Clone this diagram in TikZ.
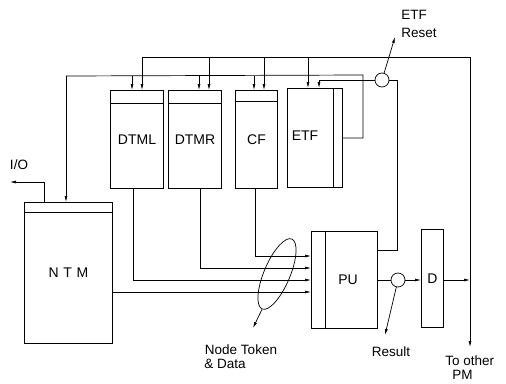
\documentclass[tikz,border=0pt]{standalone}
\usepackage{fontspec}
\setmainfont{Liberation Sans}
\usetikzlibrary{arrows.meta,shapes.geometric}
\begin{document}
\begin{tikzpicture}[x=1pt,y=-1pt, line width=0.7pt,
  box/.style={draw, line width=1pt, anchor=north west, inner sep=0, font=\fontsize{14}{16}\selectfont},
  lbl/.style={font=\fontsize{13.5}{15}\selectfont, inner sep=0},
  arr/.style={-{Latex[length=6pt,width=3pt]}},
  junc/.style={draw, circle, minimum size=14pt, inner sep=0}]
\useasboundingbox (0,0) rectangle (506,383);
% boxes
\node[box, minimum width=53, minimum height=98] (dtml) at (110,90) {DTML};
\node[box, minimum width=53, minimum height=98] (dtmr) at (168,90) {DTMR};
\node[box, minimum width=42, minimum height=98] (cf) at (235,90) {CF};
\node[box, minimum width=55, minimum height=99] (etf) at (287,88) {};
\node[lbl, font=\fontsize{14}{16}\selectfont] (etft) at (305,136) {ETF};
\node[box, minimum width=88, minimum height=141] (ntm) at (24,202) {N\,\,T\,\,M};
\node[box, minimum width=66, minimum height=97] (pu) at (311,231) {};
\node[lbl, font=\fontsize{14}{16}\selectfont] (put) at (348,280) {PU};
\node[box, minimum width=22, minimum height=98] (d) at (421,229) {D};
% header lines and strips
\draw[line width=1pt] ([yshift=-13pt]dtml.north west) -- ([yshift=-13pt]dtml.north east);
\draw[line width=1pt] ([yshift=-13pt]dtmr.north west) -- ([yshift=-13pt]dtmr.north east);
\draw[line width=1pt] ([yshift=-11pt]cf.north west) -- ([yshift=-11pt]cf.north east);
\draw[line width=1pt] ([yshift=-10pt]ntm.north west) -- ([yshift=-10pt]ntm.north east);
\draw[line width=1pt] ([xshift=-10pt]etf.north east) -- ([xshift=-10pt]etf.south east);
\draw[line width=1pt] ([xshift=14pt]pu.north west) -- ([xshift=14pt]pu.south west);
% top bus
\coordinate (t1) at (142,57);
\coordinate (t2) at (209,57);
\coordinate (t3) at (264,57);
\coordinate (t4) at (308,57);
\coordinate (tr) at (470,57);
\coordinate (pm) at (470,347);
\draw (t1) -- (tr);
\draw[arr] (tr) -- (pm);
\draw[arr] (t1) -- (dtml.north -| t1);
\draw[arr] (t2) -- (dtmr.north -| t2);
\draw[arr] (t3) -- (cf.north -| t3);
\draw[arr] (t4) -- (etf.north -| t4);
% second bus
\coordinate (s0) at (66,76);
\coordinate (s1) at (132,76);
\coordinate (s2) at (199,76);
\coordinate (s3) at (254,76);
\coordinate (sr) at (363,75);
\coordinate (sd) at (363,138);
\draw (s0) -- (sr) -- (sd) -- (sd -| etf.east);
\draw[arr] (s0) -- (ntm.north -| s0);
\draw[arr] (s1) -- (dtml.north -| s1);
\draw[arr] (s2) -- (dtmr.north -| s2);
\draw[arr] (s3) -- (cf.north -| s3);
% ETF reset
\node[junc] (ec) at (382,80) {};
\coordinate (e0) at (319,80);
\coordinate (e1) at (397,80);
\coordinate (e2) at (397,250);
\draw (pu.east |- e2) -- (e2) -- (e1) -- (ec);
\draw (ec) -- (e0);
\draw[arr] (e0) -- (etf.north -| e0);
\node[lbl, anchor=west] (etfl) at (401,15) {ETF};
\node[lbl, anchor=west] (rst) at (401,33) {Reset};
\coordinate (ra) at (395,37);
\draw[arr] (ec) -- (ra);
% result
\node[junc] (rc) at (398,280) {};
\draw (pu.east |- rc) -- (rc);
\draw[arr] (rc) -- (d.west |- rc);
\draw[arr] (d.east |- rc) -- (rc -| tr);
\coordinate (resa) at (385,335);
\draw[arr] (rc) -- (resa);
\node[lbl] (res) at (391,352) {Result};
% inputs to PU
\coordinate (i1) at (255,256);
\coordinate (i2) at (200,268);
\coordinate (i3) at (133,280);
\coordinate (i4) at (112,292);
\draw (cf.south -| i1) -- (i1);
\draw (dtmr.south -| i2) -- (i2);
\draw (dtml.south -| i3) -- (i3);
\draw[arr] (i1) -- (pu.west |- i1);
\draw[arr] (i2) -- (pu.west |- i2);
\draw[arr] (i3) -- (pu.west |- i3);
\draw[arr] (ntm.east |- i4) -- (pu.west |- i4);
% ellipse
\node[draw, ellipse, minimum width=76pt, minimum height=26pt, inner sep=0, rotate=67] (ell) at (277,274) {};
\coordinate (nta) at (253,328);
\draw[arr] (ell.west) -- (nta);
\node[lbl] (ntok) at (241,350) {Node Token};
\node[lbl, anchor=west] (ndat) at (204,364) {\& Data};
% I/O
\coordinate (io1) at (44,182);
\coordinate (io2) at (10,182);
\draw[arr] (ntm.north -| io1) -- (io1) -- (io2);
\node[lbl] (io) at (19,165) {I/O};
% to other PM
\node[lbl, anchor=west] (toth) at (445,361) {To other};
\node[lbl, anchor=west] (tpm) at (452,375) {PM};
\end{tikzpicture}
\end{document}
